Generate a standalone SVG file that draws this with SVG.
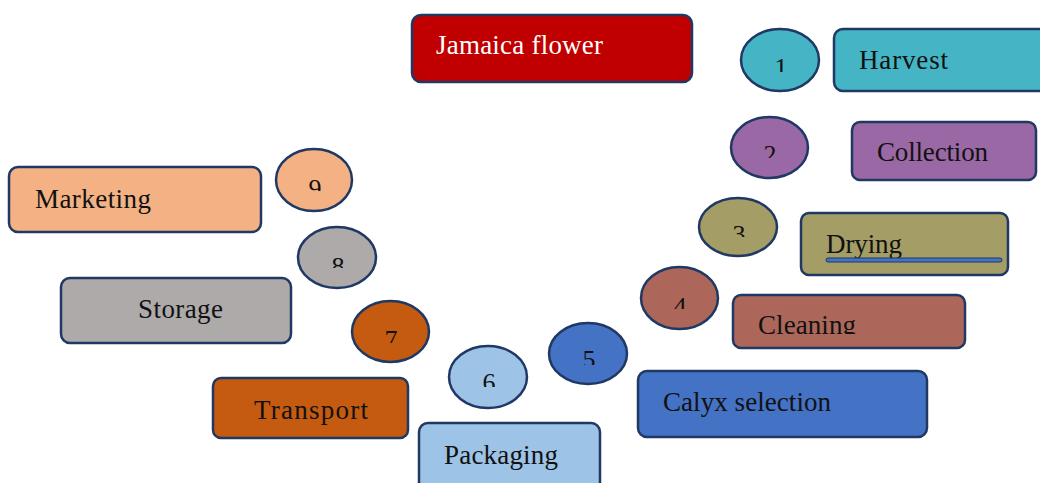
<svg xmlns="http://www.w3.org/2000/svg" width="1040" height="483" viewBox="0 0 1040 483">
<style>
.box{stroke:#1F3864;stroke-width:2.5}
.el{stroke:#1F3864;stroke-width:2.5}
.lbl{font-family:"Liberation Serif",serif;font-size:27px;fill:#111}
.num{font-family:"Liberation Serif",serif;font-size:26px;fill:#111;text-anchor:middle}
</style>
<defs>
<clipPath id="c1"><rect x="735" y="25" width="90" height="47"/></clipPath>
<clipPath id="c2"><rect x="725" y="110" width="90" height="48"/></clipPath>
<clipPath id="c3"><rect x="695" y="195" width="90" height="42"/></clipPath>
<clipPath id="c4"><rect x="635" y="265" width="90" height="44"/></clipPath>
<clipPath id="c5"><rect x="545" y="320" width="90" height="45"/></clipPath>
<clipPath id="c6"><rect x="445" y="340" width="90" height="47"/></clipPath>
<clipPath id="c7"><rect x="345" y="298" width="90" height="45"/></clipPath>
<clipPath id="c8"><rect x="295" y="225" width="90" height="43"/></clipPath>
<clipPath id="c9"><rect x="270" y="145" width="90" height="46"/></clipPath>
<clipPath id="cDry"><rect x="800" y="210" width="210" height="48"/></clipPath>
<clipPath id="cClean"><rect x="730" y="290" width="240" height="44"/></clipPath>
</defs>
<g id="jamaica">
<rect class="box" x="412" y="15" width="280" height="67" rx="9" fill="#C00000"/>
<text class="lbl" x="436" y="54" style="fill:#fff" textLength="167">Jamaica flower</text>
</g>
<g id="step1">
<ellipse class="el" cx="780" cy="60" rx="39" ry="31" fill="#45B4C4"/>
<text class="num" x="781" y="76" clip-path="url(#c1)">1</text>
</g>
<g id="harvest">
<rect class="box" x="834" y="29" width="230" height="62" rx="9" fill="#45B4C4"/>
<text class="lbl" x="859" y="69" textLength="89">Harvest</text>
</g>
<g id="step2">
<ellipse class="el" cx="769.5" cy="147.5" rx="38.5" ry="30.5" fill="#9A68A4"/>
<text class="num" x="770" y="163" clip-path="url(#c2)">2</text>
</g>
<g id="collection">
<rect class="box" x="852" y="122" width="184" height="58" rx="8" fill="#9A68A4"/>
<text class="lbl" x="877" y="161" textLength="111">Collection</text>
</g>
<g id="step3">
<ellipse class="el" cx="738" cy="227" rx="39" ry="29" fill="#A49D65"/>
<text class="num" x="739" y="243" clip-path="url(#c3)">3</text>
</g>
<g id="drying">
<rect class="box" x="801" y="213" width="207" height="62" rx="8" fill="#A49D65"/>
<text class="lbl" x="826" y="253" textLength="76" clip-path="url(#cDry)">Drying</text>
<rect x="826" y="258" width="176" height="4" rx="2" fill="#4472C4" stroke="#1F3864" stroke-width="1"/>
</g>
<g id="step4">
<ellipse class="el" cx="679.5" cy="298" rx="38.5" ry="31" fill="#AD675A"/>
<text class="num" x="680" y="315" clip-path="url(#c4)">4</text>
</g>
<g id="cleaning">
<rect class="box" x="733" y="295" width="232" height="53" rx="8" fill="#AD675A"/>
<text class="lbl" x="758" y="334" textLength="98" clip-path="url(#cClean)">Cleaning</text>
</g>
<g id="step5">
<ellipse class="el" cx="588" cy="353.5" rx="39" ry="30.5" fill="#4472C4"/>
<text class="num" x="589" y="368" clip-path="url(#c5)">5</text>
</g>
<g id="calyx">
<rect class="box" x="638" y="371" width="289" height="66" rx="9" fill="#4472C4"/>
<text class="lbl" x="663" y="411" textLength="168">Calyx selection</text>
</g>
<g id="step6">
<ellipse class="el" cx="488" cy="377" rx="39" ry="31" fill="#9DC3E6"/>
<text class="num" x="489" y="391" clip-path="url(#c6)">6</text>
</g>
<g id="packaging">
<rect class="box" x="419" y="423" width="181" height="80" rx="9" fill="#9DC3E6"/>
<text class="lbl" x="444" y="464" textLength="114">Packaging</text>
</g>
<g id="step7">
<ellipse class="el" cx="390.5" cy="331.5" rx="38.5" ry="30.5" fill="#C55A11"/>
<text class="num" x="391" y="348" clip-path="url(#c7)">7</text>
</g>
<g id="transport">
<rect class="box" x="213" y="378" width="195" height="60" rx="8" fill="#C55A11"/>
<text class="lbl" x="254" y="419" textLength="114">Transport</text>
</g>
<g id="step8">
<ellipse class="el" cx="337" cy="257.5" rx="39" ry="30.5" fill="#AEAAAA"/>
<text class="num" x="338" y="275" clip-path="url(#c8)">8</text>
</g>
<g id="storage">
<rect class="box" x="61" y="278" width="230" height="65" rx="9" fill="#AEAAAA"/>
<text class="lbl" x="138" y="318" textLength="85">Storage</text>
</g>
<g id="step9">
<ellipse class="el" cx="314" cy="180" rx="38" ry="31" fill="#F4B183"/>
<text class="num" x="315" y="197" clip-path="url(#c9)">9</text>
</g>
<g id="marketing">
<rect class="box" x="9" y="167" width="252" height="65" rx="9" fill="#F4B183"/>
<text class="lbl" x="35" y="208" textLength="116">Marketing</text>
</g>
<g id="connectors"></g>
</svg>
